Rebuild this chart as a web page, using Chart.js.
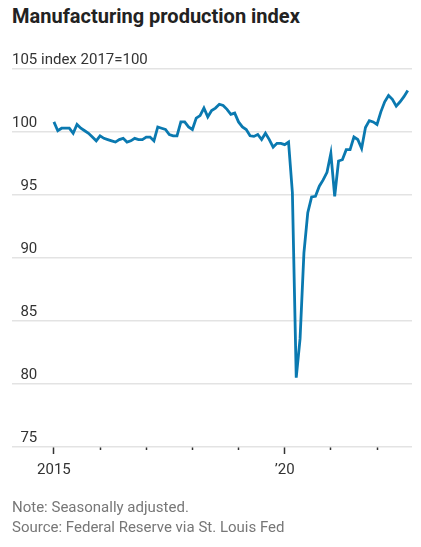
<!DOCTYPE html>
<html>
<head>
<meta charset="utf-8">
<script src="https://cdn.jsdelivr.net/npm/chart.js@4.4.0/dist/chart.umd.min.js"></script>
<style>
  html, body { margin: 0; padding: 0; background: #fff; }
  body { width: 421px; height: 547px; position: relative; overflow: hidden; font-family: Roboto, sans-serif; }
  #title { position: absolute; left: 12px; top: 4px; font-size: 20px; font-weight: bold; color: #222; }
  #wrap { position: absolute; left: 0; top: 0; width: 421px; height: 500px; }
  .note { position: absolute; left: 12px; font-size: 15px; color: #777; }
</style>
</head>
<body>
<div id="title">Manufacturing production index</div>
<div id="wrap"><canvas id="chart"></canvas></div>
<div class="note" style="top: 498px;">Note: Seasonally adjusted.</div>
<div class="note" style="top: 518px;">Source: Federal Reserve via St. Louis Fed</div>
<script>
// monthly, Jan 2015 .. Sep 2022
const startYear = 2015;
const values = [
  100.8, 100.1, 100.3, 100.3, 100.3, 99.9, 100.6, 100.3, 100.1, 99.9, 99.6, 99.3,
  99.7, 99.5, 99.4, 99.3, 99.2, 99.4, 99.5, 99.2, 99.3, 99.5, 99.4, 99.4,
  99.6, 99.6, 99.3, 100.4, 100.3, 100.2, 99.8, 99.7, 99.7, 100.8, 100.8, 100.4,
  100.2, 101.1, 101.3, 101.9, 101.2, 101.7, 101.9, 102.2, 102.1, 101.8, 101.4, 101.5,
  100.8, 100.4, 100.2, 99.7, 99.65, 99.8, 99.4, 99.9, 99.4, 98.8, 99.1, 99.1,
  99.0, 99.2, 95.2, 80.5, 83.6, 90.4, 93.6, 94.85, 94.9, 95.7, 96.2, 96.8,
  98.3, 94.9, 97.7, 97.8, 98.6, 98.6, 99.6, 99.4, 98.7, 100.35, 100.9, 100.8,
  100.6, 101.6, 102.4, 102.9, 102.6, 102.05, 102.4, 102.8, 103.3
];
const yTicks = [75, 80, 85, 90, 95, 100, 105];
const yearTicks = [0, 12, 24, 36, 48, 60, 72, 84];   // month index of each January
const xLabels = { 0: '2015', 60: '\u201920' };
const unitLabel = 'index 2017=100';

const points = values.map((v, i) => ({ x: i, y: v }));

const yLabelPlugin = {
  id: 'yLabels',
  afterDraw(chart) {
    const { ctx, chartArea } = chart;
    const y = chart.scales.y;
    ctx.save();
    ctx.font = '15px Roboto';
    ctx.fillStyle = '#333';
    ctx.textBaseline = 'alphabetic';
    const right = chartArea.left + ctx.measureText('100').width;
    y.ticks.forEach(t => {
      const py = y.getPixelForValue(t.value) - 5;
      ctx.textAlign = 'right';
      ctx.fillText(String(t.value), right, py);
      if (t.value === yTicks[yTicks.length - 1]) {
        ctx.textAlign = 'left';
        ctx.fillText(' ' + unitLabel, right, py);
      }
    });
    ctx.restore();
  }
};

new Chart(document.getElementById('chart'), {
  type: 'line',
  data: {
    datasets: [{
      data: points,
      borderColor: '#0a79b0',
      borderWidth: 2.8,
      pointRadius: 0,
      tension: 0,
      fill: false
    }]
  },
  options: {
    responsive: true,
    maintainAspectRatio: false,
    animation: false,
    layout: { padding: { top: 69, left: 12, right: 9, bottom: 0 } },
    plugins: { legend: { display: false }, tooltip: { enabled: false } },
    scales: {
      x: {
        type: 'linear',
        min: -10.9,
        max: 93.1,
        afterBuildTicks: s => { s.ticks = yearTicks.map(v => ({ value: v })); },
        afterFit: s => { s.height = 53; },
        border: { display: false },
        grid: {
          drawOnChartArea: false,
          tickLength: 7,
          tickColor: '#333',
          tickWidth: 1.5,
          tickBorderDash: c => (xLabels[c.tick && c.tick.value] ? [] : [3, 20])
        },
        ticks: {
          autoSkip: false,
          maxRotation: 0,
          padding: 7,
          color: '#333',
          font: { family: 'Roboto', size: 15 },
          callback: v => xLabels[v] || ''
        }
      },
      y: {
        min: 75,
        max: 105,
        afterBuildTicks: s => { s.ticks = yTicks.map(v => ({ value: v })); },
        afterFit: s => { s.width = 0; },
        border: { display: false },
        grid: { color: '#e3e3e3', lineWidth: 1.5, drawTicks: false },
        ticks: { display: false }
      }
    }
  },
  plugins: [yLabelPlugin]
});
</script>
</body>
</html>
